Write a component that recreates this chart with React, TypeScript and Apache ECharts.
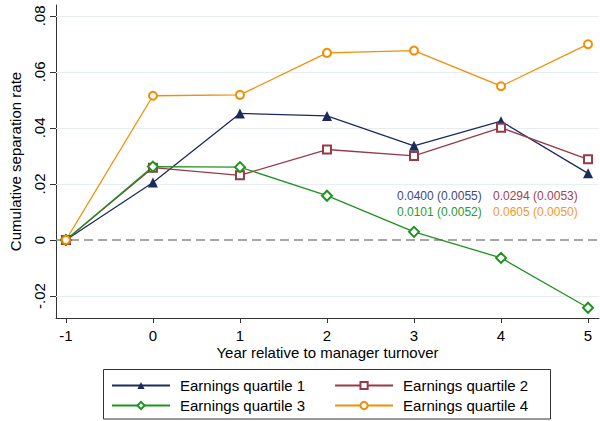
import React, { useEffect, useRef } from "react";
import * as echarts from "echarts";

const years = [-1, 0, 1, 2, 3, 4, 5];
const q1 = [0, 0.0205, 0.0452, 0.0443, 0.0336, 0.0424, 0.0238];
const q2 = [0, 0.0258, 0.0231, 0.0323, 0.03, 0.0401, 0.0288];
const q3 = [0, 0.0262, 0.026, 0.0158, 0.0029, -0.0064, -0.0242];
const q4 = [0, 0.0515, 0.0518, 0.0668, 0.0676, 0.0549, 0.0699];
const seriesNames = [
  "Earnings quartile 1",
  "Earnings quartile 2",
  "Earnings quartile 3",
  "Earnings quartile 4",
];
const yTicks = [-0.02, 0, 0.02, 0.04, 0.06, 0.08];
const gridValues = [-0.02, 0.02, 0.04, 0.06, 0.08];
const annotations = [
  ["0.0400 (0.0055)", "0.0294 (0.0053)"],
  ["0.0101 (0.0052)", "0.0605 (0.0050)"],
];

const NAVY = "#1c2b5e";
const MAROON = "#963a46";
const GREEN = "#1f931f";
const ORANGE = "#f28e05";
const annColors = [
  ["#3d4a7a", "#a0434f"],
  ["#2a9a2a", "#f29a2a"],
];
const FONT = "Liberation Sans";

export default function App() {
  const ref = useRef<HTMLDivElement>(null);
  useEffect(() => {
    if (!ref.current) return;
    const chart = echarts.init(ref.current, null, { renderer: "svg" });
    const mk = (vals: number[]) => vals.map((v, i) => [years[i], v]);
    const fmtY = (v: number) => {
      if (Math.abs(v) < 1e-9) return "0";
      return (v < 0 ? "-" : "") + Math.abs(v).toFixed(2).replace(/^0/, "");
    };
    const base = {
      type: "line",
      lineStyle: { width: 1.3 },
      z: 3,
    };
    const graphics: any[] = [
      {
        type: "rect",
        shape: { x: 103.5, y: 369.5, width: 447, height: 49.5 },
        style: { fill: "none", stroke: "#333", lineWidth: 1 },
        silent: true,
      },
    ];
    const colX = [397, 493];
    const rowY = [196, 212];
    annotations.forEach((row, r) =>
      row.forEach((t, c) =>
        graphics.push({
          type: "text",
          x: colX[c],
          y: rowY[r],
          style: {
            text: t,
            fill: annColors[r][c],
            font: `12px "${FONT}"`,
            verticalAlign: "middle",
            align: "left",
          },
          z: 10,
        })
      )
    );
    const legendBase = {
      left: 111,
      itemWidth: 58,
      itemHeight: 9,
      itemGap: 29,
      padding: 0,
      textStyle: {
        fontSize: 15,
        fontFamily: FONT,
        color: "#000",
        padding: [0, 0, 0, 5],
      },
    };
    const axisFont = { fontSize: 15, fontFamily: FONT, color: "#000" };
    chart.setOption({
      animation: false,
      backgroundColor: "#fff",
      grid: { left: 54, right: 1, top: 5, bottom: 103 },
      xAxis: {
        type: "value",
        min: -1.114,
        max: 5.126,
        name: "Year relative to manager turnover",
        nameLocation: "middle",
        nameGap: 27,
        nameMoveOverlap: false,
        nameTextStyle: axisFont,
        axisLine: { show: true, onZero: false, lineStyle: { color: "#333", width: 1 } },
        axisTick: { show: true, length: 5, customValues: years, lineStyle: { color: "#333" } },
        axisLabel: { ...axisFont, customValues: years, margin: 10 },
        splitLine: { show: false },
      },
      yAxis: {
        type: "value",
        min: -0.02786,
        max: 0.0839,
        name: "Cumulative separation rate",
        nameLocation: "middle",
        nameGap: 33,
        nameMoveOverlap: false,
        nameTextStyle: axisFont,
        axisLine: { show: true, onZero: false, lineStyle: { color: "#333", width: 1 } },
        axisTick: { show: true, length: 6, customValues: yTicks, lineStyle: { color: "#333" } },
        axisLabel: {
          ...axisFont,
          customValues: yTicks,
          rotate: 90,
          margin: 9,
          formatter: fmtY,
        },
        splitLine: { show: false },
      },
      legend: [
        { ...legendBase, top: 378, data: [seriesNames[0], seriesNames[1]] },
        { ...legendBase, top: 398, data: [seriesNames[2], seriesNames[3]] },
      ],
      graphic: graphics,
      series: [
        {
          ...base,
          name: seriesNames[0],
          data: mk(q1),
          color: NAVY,
          symbol: "triangle",
          symbolSize: 10,
          itemStyle: { color: NAVY },
          markLine: {
            silent: true,
            symbol: "none",
            label: { show: false },
            z: 1,
            data: [
              ...gridValues.map((v) => ({
                yAxis: v,
                lineStyle: { color: "#e6eef2", width: 1, type: "solid" },
              })),
              {
                yAxis: 0,
                lineStyle: { color: "#8a8a8a", width: 1.5, type: [9, 5] },
              },
            ],
          },
        },
        {
          ...base,
          name: seriesNames[1],
          data: mk(q2),
          color: MAROON,
          symbol: "emptyRect",
          symbolSize: 8,
          itemStyle: { color: MAROON, borderWidth: 1.2 },
        },
        {
          ...base,
          name: seriesNames[2],
          data: mk(q3),
          color: GREEN,
          symbol: "emptyDiamond",
          symbolSize: 10,
          itemStyle: { color: GREEN, borderWidth: 1.2 },
        },
        {
          ...base,
          name: seriesNames[3],
          data: mk(q4),
          color: ORANGE,
          symbol: "emptyCircle",
          symbolSize: 8,
          itemStyle: { color: ORANGE, borderWidth: 1.2 },
        },
      ],
    });
    return () => chart.dispose();
  }, []);
  return (
    <div
      ref={ref}
      style={{ position: "fixed", left: 0, top: 0, width: 600, height: 421 }}
    />
  );
}
